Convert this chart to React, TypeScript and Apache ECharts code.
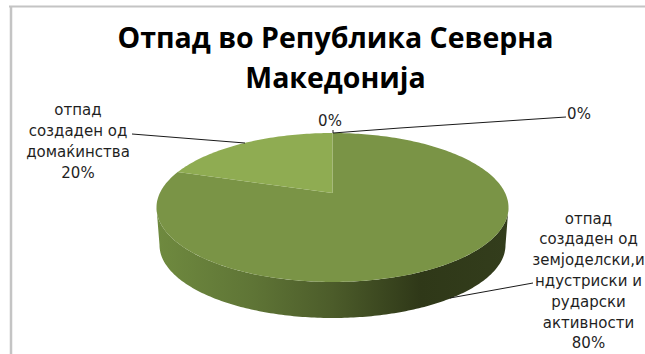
import React, { useEffect, useRef } from "react";
import * as echarts from "echarts";

const titleLines = ["Отпад во Република Северна", "Македонија"];
// Clockwise from twelve o'clock.
const sliceNames = [
  ["отпад", "создаден од", "земјоделски,и", "ндустриски и", "рударски", "активности"],
  ["отпад", "создаден од", "домаќинства"],
  [],
  [],
];
const sliceValues = [80, 20, 0, 0];
const sliceColors = ["#7a9446", "#8fac52", "#7a9446", "#7a9446"];

const WIDTH = 645;
const HEIGHT = 354;

// Tilted disc: outline ellipse, lower rim, and the apparent centre shift from perspective.
const disc = { cx: 332.5, cy: 207.5, rx: 176, ry: 74.5, shift: 0.195 };
const rim = { cx: 332.5, cy: 245, rx: 173, ry: 73 };

const labelAnchors = [
  { x: 588.5, y: 281 },
  { x: 78, y: 141.5 },
  { x: 330, y: 121 },
  { x: 579, y: 114 },
];
const leaderPaths = [
  [[450, 298], [533, 283]],
  [[132, 134], [245, 143]],
  [[333, 130], [333, 133]],
  [[333, 133], [400, 128], [566, 117]],
];

// Perspective mapping of a clock angle on the disc to screen coordinates.
function rimPoint(clockAngle: number): number[] {
  const u = Math.sin(clockAngle);
  const v = -Math.cos(clockAngle);
  const c = disc.shift;
  const w = 1 - c * v;
  return [
    disc.cx + (disc.rx * u * Math.sqrt(1 - c * c)) / w,
    disc.cy + (disc.ry * (v - c)) / w,
  ];
}

function slicePolygon(from: number, to: number): number[][] {
  const steps = Math.max(2, Math.ceil((to - from) / 0.02));
  const points = [[disc.cx, disc.cy - disc.ry * disc.shift]];
  for (let i = 0; i <= steps; i++) points.push(rimPoint(from + ((to - from) * i) / steps));
  return points;
}

function sideWall(): number[][] {
  const points: number[][] = [];
  const steps = 180;
  for (let i = 0; i <= steps; i++) {
    const t = (Math.PI * i) / steps;
    points.push([disc.cx + disc.rx * Math.cos(t), disc.cy + disc.ry * Math.sin(t)]);
  }
  for (let i = steps; i >= 0; i--) {
    const t = (Math.PI * i) / steps;
    points.push([rim.cx + rim.rx * Math.cos(t), rim.cy + rim.ry * Math.sin(t)]);
  }
  return points;
}

export default function App() {
  const ref = useRef<HTMLDivElement>(null);

  useEffect(() => {
    if (!ref.current) return;
    const chart = echarts.init(ref.current, undefined, { renderer: "svg" });
    const total = sliceValues.reduce((a, b) => a + b, 0);
    const labelFont = "DejaVu Sans";

    chart.setOption({
      animation: false,
      backgroundColor: "#ffffff",
      title: {
        text: titleLines.join("\n"),
        left: 330.5,
        top: 12,
        textAlign: "center",
        textStyle: {
          fontFamily: "Open Sans",
          fontWeight: "bold",
          fontSize: 28.5,
          lineHeight: 40,
          color: "#000000",
        },
      },
      graphic: [
        { type: "line", shape: { x1: 9, y1: 6.5, x2: WIDTH, y2: 6.5 }, style: { stroke: "#c4c4c4", lineWidth: 2 } },
        { type: "line", shape: { x1: 11, y1: 6, x2: 11, y2: HEIGHT }, style: { stroke: "#c4c4c4", lineWidth: 2.5 } },
      ],
      series: [
        {
          type: "custom",
          coordinateSystem: "none",
          data: sliceValues.map((v, i) => [v, i]),
          renderItem: (_params: any, api: any) => {
            const index = api.value(1);
            const before = sliceValues.slice(0, index).reduce((a, b) => a + b, 0);
            const from = (before / total) * Math.PI * 2;
            const to = ((before + api.value(0)) / total) * Math.PI * 2;
            const children: any[] = [];

            if (index === 0) {
              children.push({
                type: "polygon",
                shape: { points: sideWall() },
                style: {
                  fill: new echarts.graphic.LinearGradient(0, 0, 1, 0, [
                    { offset: 0, color: "#6f8a3f" },
                    { offset: 0.27, color: "#5f7536" },
                    { offset: 0.5, color: "#4c5c2a" },
                    { offset: 0.75, color: "#2f3818" },
                    { offset: 1, color: "#333d1c" },
                  ]),
                },
              });
            }
            if (to > from) {
              children.push({
                type: "polygon",
                shape: { points: slicePolygon(from, to) },
                style: { fill: sliceColors[index] },
              });
            }
            children.push({
              type: "polyline",
              shape: { points: leaderPaths[index] },
              style: { stroke: "#1a1a1a", lineWidth: 1, fill: "none" },
              z2: 5,
            });
            children.push({
              type: "text",
              x: labelAnchors[index].x,
              y: labelAnchors[index].y,
              style: {
                text: [...sliceNames[index], `${sliceValues[index]}%`].join("\n"),
                fontFamily: labelFont,
                fontSize: 15,
                lineHeight: 20.8,
                fill: "#1f1f1f",
                align: "center",
                verticalAlign: "middle",
              },
              z2: 6,
            });
            return { type: "group", children };
          },
        },
      ],
    });
    return () => chart.dispose();
  }, []);

  return (
    <div
      ref={ref}
      style={{ position: "fixed", left: 0, top: 0, width: WIDTH, height: HEIGHT }}
    />
  );
}
